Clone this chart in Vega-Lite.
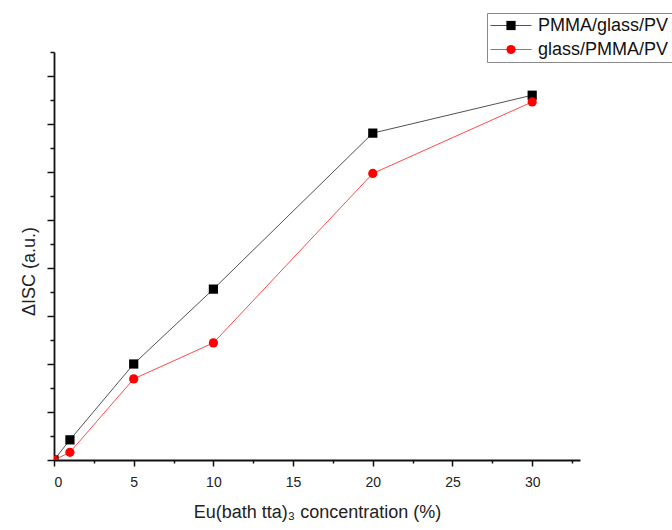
{
  "$schema": "https://vega.github.io/schema/vega-lite/v6.json",
  "width": 526,
  "height": 408,
  "autosize": "none",
  "padding": {"left": 54, "top": 52, "right": 92, "bottom": 70},
  "background": "white",
  "config": {
    "view": {"stroke": null},
    "font": "Liberation Sans"
  },
  "data": {
    "values": [
      {"c": 0, "v": 0, "s": "PMMA/glass/PV"},
      {"c": 1, "v": 0.42, "s": "PMMA/glass/PV"},
      {"c": 5, "v": 2.0, "s": "PMMA/glass/PV"},
      {"c": 10, "v": 3.56, "s": "PMMA/glass/PV"},
      {"c": 20, "v": 6.81, "s": "PMMA/glass/PV"},
      {"c": 30, "v": 7.6, "s": "PMMA/glass/PV"},
      {"c": 0, "v": 0, "s": "glass/PMMA/PV"},
      {"c": 1, "v": 0.16, "s": "glass/PMMA/PV"},
      {"c": 5, "v": 1.69, "s": "glass/PMMA/PV"},
      {"c": 10, "v": 2.44, "s": "glass/PMMA/PV"},
      {"c": 20, "v": 5.97, "s": "glass/PMMA/PV"},
      {"c": 30, "v": 7.46, "s": "glass/PMMA/PV"}
    ]
  },
  "encoding": {
    "x": {
      "field": "c", "type": "quantitative",
      "scale": {"domain": [0, 33], "nice": false, "zero": false},
      "axis": {
        "title": "Eu(bath tta)₃ concentration (%)",
        "titleFont": "Liberation Sans", "titleFontSize": 18, "titleFontWeight": "normal", "titleColor": "#222",
        "titlePadding": 14,
        "values": [0, 2.5, 5, 7.5, 10, 12.5, 15, 17.5, 20, 22.5, 25, 27.5, 30, 32.5],
        "labelExpr": "datum.value % 5 === 0 ? datum.label : ''",
        "labelFont": "Liberation Sans", "labelFontSize": 14, "labelColor": "#222",
        "labelPadding": 9,
        "tickSize": {"condition": {"test": "datum.value % 5 === 0", "value": 6}, "value": 3},
        "tickColor": "#111", "tickWidth": 1.5,
        "domainColor": "#111", "domainWidth": 1.8,
        "grid": false
      }
    },
    "y": {
      "field": "v", "type": "quantitative",
      "scale": {"domain": [0, 8.5], "nice": false, "zero": false},
      "axis": {
        "title": "ΔISC (a.u.)",
        "titleFont": "Liberation Sans", "titleFontSize": 18, "titleFontWeight": "normal", "titleColor": "#222",
        "titlePadding": 8, "titleY": 219,
        "values": [0, 0.5, 1, 1.5, 2, 2.5, 3, 3.5, 4, 4.5, 5, 5.5, 6, 6.5, 7, 7.5, 8, 8.5],
        "labels": false,
        "tickSize": {"condition": {"test": "datum.value % 1 === 0", "value": 7}, "value": 4},
        "tickColor": "#111", "tickWidth": 1.5,
        "domainColor": "#111", "domainWidth": 1.8,
        "grid": false
      }
    }
  },
  "layer": [
    {
      "mark": {"type": "line", "strokeWidth": 1, "opacity": 0.85, "clip": true},
      "encoding": {
        "color": {
          "field": "s", "type": "nominal",
          "scale": {"domain": ["PMMA/glass/PV", "glass/PMMA/PV"], "range": ["#333333", "#ff2a2a"]},
          "legend": {
            "title": null, "orient": "none", "legendX": 433, "legendY": -39,
            "symbolType": "stroke", "symbolSize": 1681, "symbolStrokeWidth": 1, "clipHeight": 19,
            "labelFont": "Liberation Sans", "labelFontSize": 18, "labelColor": "#111",
            "labelOffset": 6, "strokeColor": "#888", "padding": 3, "rowPadding": 5
          }
        }
      }
    },
    {
      "mark": {"type": "point", "filled": true, "opacity": 1, "size": 85, "clip": true},
      "encoding": {
        "color": {
          "field": "s", "type": "nominal",
          "scale": {"domain": ["glass/PMMA/PV", "PMMA/glass/PV"], "range": ["#ff0000", "#000000"]},
          "legend": {
            "title": null, "orient": "none", "legendX": 433, "legendY": -39,
            "values": ["PMMA/glass/PV", "glass/PMMA/PV"],
            "symbolSize": 85, "symbolStrokeWidth": 0, "clipHeight": 19, "symbolOpacity": 1,
            "labelFont": "Liberation Sans", "labelFontSize": 18, "labelExpr": "''",
            "labelOffset": 6, "padding": 3, "rowPadding": 5, "symbolOffset": 12
          }
        },
        "shape": {
          "field": "s", "type": "nominal",
          "scale": {"domain": ["glass/PMMA/PV", "PMMA/glass/PV"], "range": ["circle", "square"]},
          "legend": {
            "title": null, "orient": "none", "legendX": 433, "legendY": -39,
            "values": ["PMMA/glass/PV", "glass/PMMA/PV"],
            "symbolSize": 85, "symbolStrokeWidth": 0, "clipHeight": 19, "symbolOpacity": 1,
            "labelFont": "Liberation Sans", "labelFontSize": 18, "labelExpr": "''",
            "labelOffset": 6, "padding": 3, "rowPadding": 5, "symbolOffset": 12
          }
        }
      }
    }
  ],
  "resolve": {
    "scale": {"color": "independent", "shape": "independent"},
    "legend": {"color": "independent", "shape": "independent"}
  }
}
